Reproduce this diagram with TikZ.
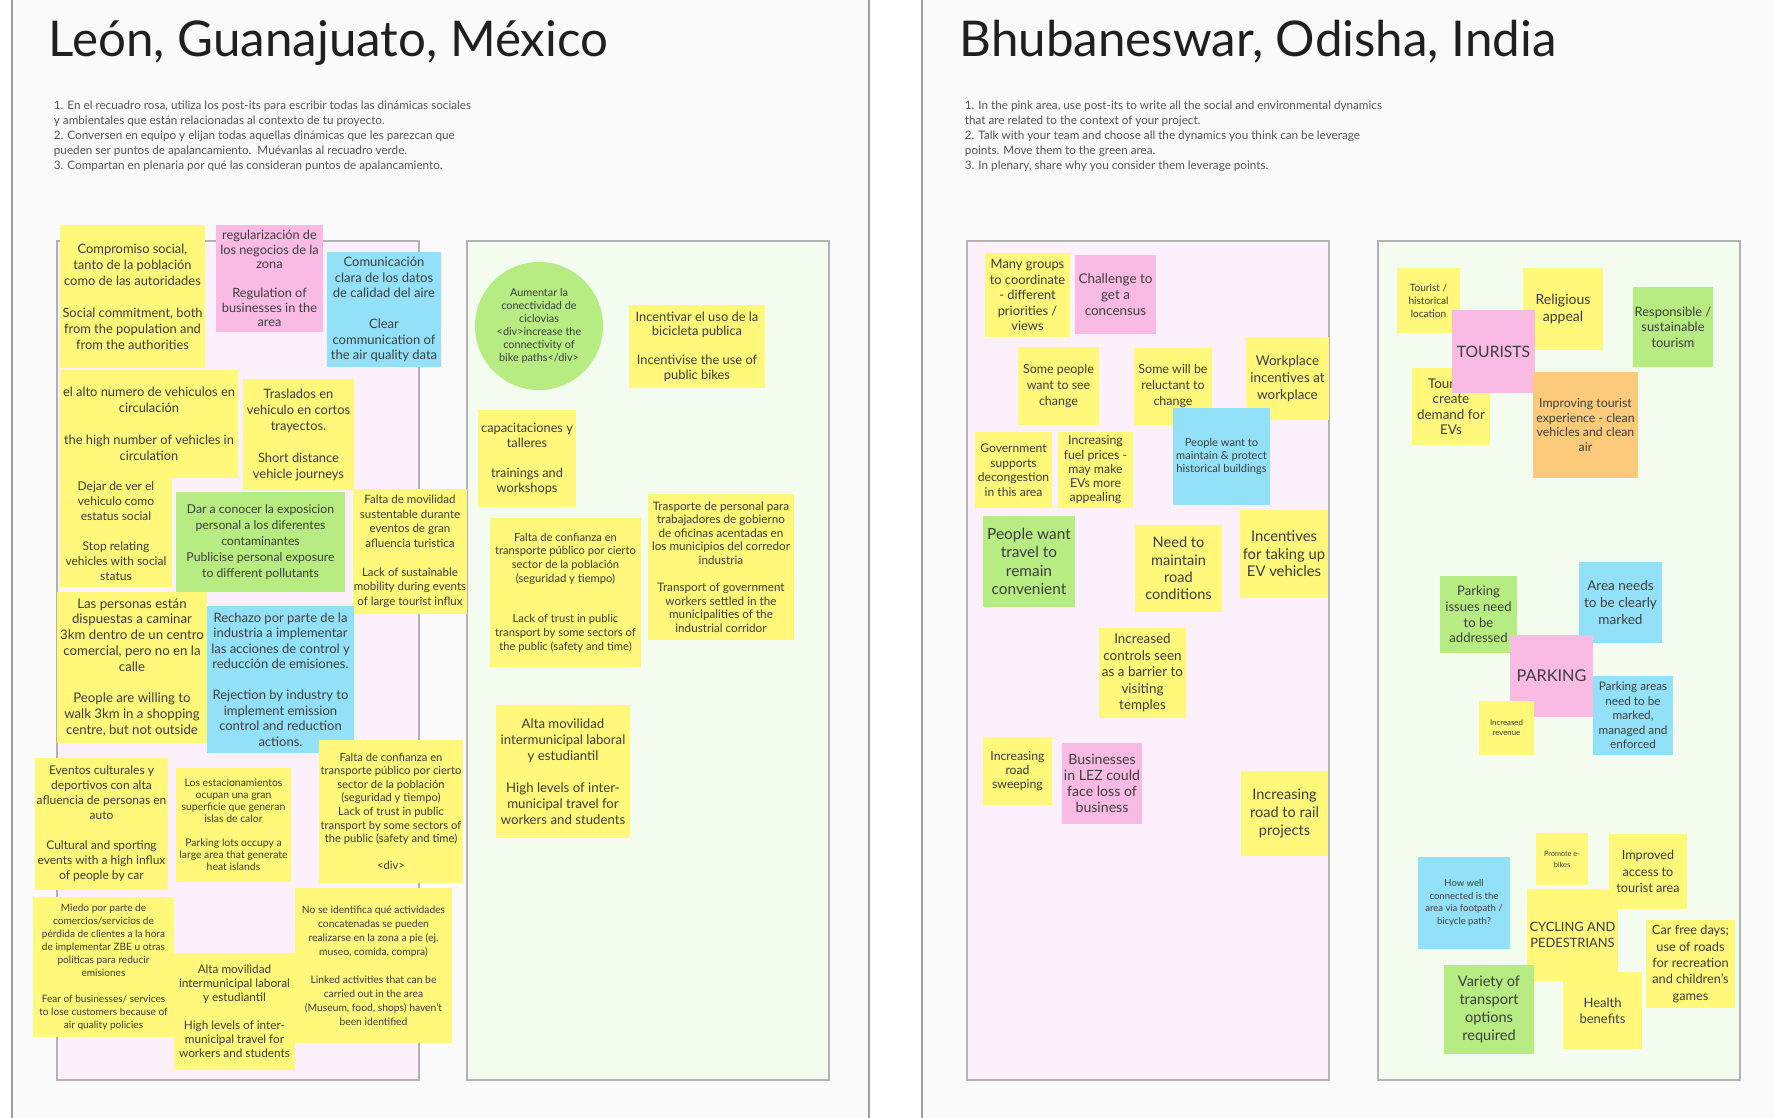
\documentclass[tikz,border=0pt]{standalone}
\usepackage{fontspec}
\setmainfont{Lato}[Scale=1.12]
\usepackage{xcolor}
\usepackage{tikz}
\usetikzlibrary{positioning}
\definecolor{boardgray}{HTML}{FAFAFA}
\definecolor{framegray}{HTML}{9E9E9E}
\definecolor{areaborder}{HTML}{B2B2B2}
\definecolor{pinkarea}{HTML}{FCF0FC}
\definecolor{greenarea}{HTML}{F4FBEF}
\definecolor{stickyyellow}{HTML}{FFF87A}
\definecolor{stickypink}{HTML}{F9BAE4}
\definecolor{stickyblue}{HTML}{93E1F8}
\definecolor{stickygreen}{HTML}{B6EC82}
\definecolor{stickyorange}{HTML}{FBCB7B}
\definecolor{notetext}{HTML}{3E3E3E}
\definecolor{hinttext}{HTML}{555555}
\newcommand{\nf}[2]{\fontsize{#1}{#2}\selectfont}

\begin{document}
\begin{tikzpicture}[x=1pt, y=-1pt,
    area/.style={draw=areaborder, line width=1.2pt},
    title/.style={anchor=base west, font=\nf{44}{50}, text=black!88},
    hint/.style={anchor=north west, align=left, font=\nf{10.45}{15}, text=hinttext},
    note/.style={inner sep=1pt, align=center, text=notetext},
    sz/.style 2 args={minimum width=#1, minimum height=#2},
    yel/.style={note, fill=stickyyellow},
    pnk/.style={note, fill=stickypink},
    blu/.style={note, fill=stickyblue},
    grn/.style={note, fill=stickygreen},
    org/.style={note, fill=stickyorange}
]
    \useasboundingbox (0,0) rectangle (1774,1118);
    \fill[white] (0,0) rectangle (1774,1118);

    % Frames
    \fill[boardgray] (12,0) rectangle (869,1118);
    \fill[boardgray] (922,0) rectangle (1774,1118);
    \draw[framegray, line width=2] (12,0) -- (12,1118);
    \draw[framegray, line width=2] (869,0) -- (869,1118);
    \draw[framegray, line width=2] (922,0) -- (922,1118);

    % Titles and instructions
    \node[title] (t_leon) at (45,57) {León, Guanajuato, México};
    \node[title] (t_bhub) at (956,57) {Bhubaneswar, Odisha, India};
    \node[hint] (h_leon) at (50,97) {1. En el recuadro rosa, utiliza los post-its para escribir todas las dinámicas sociales\\y ambientales que están relacionadas al contexto de tu proyecto.\\2. Conversen en equipo y elijan todas aquellas dinámicas que les parezcan que\\pueden ser puntos de apalancamiento.\ \ Muévanlas al recuadro verde.\\3. Compartan en plenaria por qué las consideran puntos de apalancamiento.};
    \node[hint] (h_bhub) at (961,97) {1. In the pink area, use post-its to write all the social and environmental dynamics\\that are related to the context of your project.\\2. Talk with your team and choose all the dynamics you think can be leverage\\points. Move them to the green area.\\3. In plenary, share why you consider them leverage points.};

    % Areas
    \draw[area, fill=pinkarea] (57,241) rectangle (419,1080);
    \draw[area, fill=greenarea] (467,241) rectangle (829,1080);
    \draw[area, fill=pinkarea] (967,241) rectangle (1329,1080);
    \draw[area, fill=greenarea] (1378,241) rectangle (1740,1080);

    % Leon: pink area
    \node[yel, sz={145}{143}, font=\nf{11.5}{16}] (l_compromiso) at (132.5,296.5) {Compromiso social,\\tanto de la población\\como de las autoridades\\[\baselineskip]Social commitment, both\\from the population and\\from the authorities};
    \node[pnk, sz={107}{107}, font=\nf{11.4}{14.5}] (l_regulacion) at (269.5,278.5) {regularización de\\los negocios de la\\zona\\[\baselineskip]Regulation of\\businesses in the\\area};
    \node[blu, sz={114}{115}, font=\nf{11.6}{15.5}] (l_comunicacion) at (384,309.5) {Comunicación\\clara de los datos\\de calidad del aire\\[\baselineskip]Clear\\communication of\\the air quality data};
    \node[yel, sz={178}{108}, font=\nf{11.5}{16}] (l_vehiculos) at (149,424) {el alto numero de vehiculos en\\circulación\\[\baselineskip]the high number of vehicles in\\circulation};
    \node[yel, sz={111}{111}, font=\nf{11.5}{16}] (l_traslados) at (298.5,434.5) {Traslados en\\vehiculo en cortos\\trayectos.\\[\baselineskip]Short distance\\vehicle journeys};
    \node[yel, sz={112}{111}, font=\nf{10.7}{15}] (l_estatus) at (116,531.5) {Dejar de ver el\\vehiculo como\\estatus social\\[\baselineskip]Stop relating\\vehicles with social\\status};
    \node[grn, sz={169}{100}, font=\nf{10.9}{16}] (l_exposicion) at (260.5,542) {Dar a conocer la exposicion\\personal a los diferentes\\contaminantes\\Publicise personal exposure\\to different pollutants};
    \node[yel, sz={114}{125}, font=\nf{10.3}{14.5}] (l_turistica) at (410,551.5) {Falta de movilidad\\sustentable durante\\eventos de gran\\afluencia turistica\\[\baselineskip]Lack of sustainable\\mobility during events\\of large tourist influx};
    \node[yel, sz={150}{151}, font=\nf{11.8}{15.8}] (l_caminar) at (132,667.5) {Las personas están\\dispuestas a caminar\\3km dentro de un centro\\comercial, pero no en la\\calle\\[\baselineskip]People are willing to\\walk 3km in a shopping\\centre, but not outside};
    \node[blu, sz={147}{147}, font=\nf{11.6}{15.5}] (l_rechazo) at (280.5,679.5) {Rechazo por parte de la\\industria a implementar\\las acciones de control y\\reducción de emisiones.\\[\baselineskip]Rejection by industry to\\implement emission\\control and reduction\\actions.};
    \node[yel, sz={133}{132}, font=\nf{10.7}{15}] (l_culturales) at (101.5,824) {Eventos culturales y\\deportivos con alta\\afluencia de personas en\\auto\\[\baselineskip]Cultural and sporting\\events with a high influx\\of people by car};
    \node[yel, sz={115}{114}, font=\nf{9.3}{12}] (l_estacionamientos) at (233.5,825) {Los estacionamientos\\ocupan una gran\\superficie que generan\\islas de calor\\[\baselineskip]Parking lots occupy a\\large area that generate\\heat islands};
    \node[yel, sz={144}{143}, font=\nf{10}{13.6}] (l_confianza) at (391,811.5) {Falta de confianza en\\transporte público por cierto\\sector de la población\\(seguridad y tiempo)\\Lack of trust in public\\transport by some sectors of\\the public (safety and time)\\[\baselineskip]<div>};
    \node[yel, sz={141}{140}, font=\nf{9}{13}] (l_miedo) at (103.5,967) {Miedo por parte de\\comercios/servicios de\\pérdida de clientes a la hora\\de implementar ZBE u otras\\politicas para reducir\\emisiones\\[\baselineskip]Fear of businesses/ services\\to lose customers because of\\air quality policies};
    \node[yel, sz={157}{155}, font=\nf{9.2}{14}] (l_actividades) at (373.5,965.5) {No se identifica qué actividades\\concatenadas se pueden\\realizarse en la zona a pie (ej.\\museo, comida, compra)\\[\baselineskip]Linked activities that can be\\carried out in the area\\(Museum, food, shops) haven't\\been identified};
    \node[yel, sz={121}{117}, font=\nf{10.5}{14}] (l_movilidad) at (234.5,1011.5) {Alta movilidad\\intermunicipal laboral\\y estudiantil\\[\baselineskip]High levels of inter-\\municipal travel for\\workers and students};

    % Leon: green area
    \node[grn, circle, minimum size=128, font=\nf{9.7}{13}] (g_ciclovias) at (539,326) {Aumentar la\\conectividad de\\ciclovias\\<div>increase the\\connectivity of\\bike paths</div>};
    \node[yel, sz={136}{83}, font=\nf{11.5}{14.5}] (g_bicicleta) at (697,346.5) {Incentivar el uso de la\\bicicleta publica\\[\baselineskip]Incentivise the use of\\public bikes};
    \node[yel, sz={98}{97}, font=\nf{11.4}{15}] (g_talleres) at (527,458.5) {capacitaciones y\\talleres\\[\baselineskip]trainings and\\workshops};
    \node[yel, sz={151}{149}, font=\nf{10}{13.6}] (g_confianza) at (565.5,592.5) {Falta de confianza en\\transporte público por cierto\\sector de la población\\(seguridad y tiempo)\\[2\baselineskip]Lack of trust in public\\transport by some sectors of\\the public (safety and time)};
    \node[yel, sz={146}{146}, font=\nf{10.45}{13.6}] (g_trasporte) at (721,567) {Trasporte de personal para\\trabajadores de gobierno\\de oficinas acentadas en\\los municipios del corredor\\industria\\[\baselineskip]Transport of government\\workers settled in the\\municipalities of the\\industrial corridor};
    \node[yel, sz={134}{133}, font=\nf{11.8}{16}] (g_movilidad) at (563,771.5) {Alta movilidad\\intermunicipal laboral\\y estudiantil\\[\baselineskip]High levels of inter-\\municipal travel for\\workers and students};

    % Bhubaneswar: pink area
    \node[yel, sz={85}{84}, font=\nf{11.5}{15.5}] (b_groups) at (1027.5,295) {Many groups\\to coordinate\\- different\\priorities /\\views};
    \node[pnk, sz={81}{79}, font=\nf{12}{16}] (b_challenge) at (1115.5,294.5) {Challenge to\\get a\\concensus};
    \node[yel, sz={81}{78}, font=\nf{11.1}{16}] (b_somepeople) at (1058.5,386) {Some people\\want to see\\change};
    \node[yel, sz={78}{77}, font=\nf{11.1}{16}] (b_reluctant) at (1173,386.5) {Some will be\\reluctant to\\change};
    \node[yel, sz={83}{83}, font=\nf{12}{17}] (b_workplace) at (1287.5,378.5) {Workplace\\incentives at\\workplace};
    \node[yel, sz={77}{76}, font=\nf{10.8}{14.5}] (b_government) at (1013.5,470) {Government\\supports\\decongestion\\in this area};
    \node[yel, sz={75}{76}, font=\nf{11}{14.3}] (b_fuel) at (1095.5,470) {Increasing\\fuel prices -\\may make\\EVs more\\appealing};
    \node[blu, sz={97}{97}, font=\nf{9.9}{13}] (b_historical) at (1221.5,456.5) {People want to\\maintain \& protect\\historical buildings};
    \node[grn, sz={92}{91}, font=\nf{13.75}{18.5}] (b_convenient) at (1029,561.5) {People want\\travel to\\remain\\convenient};
    \node[yel, sz={87}{87}, font=\nf{13}{17.3}] (b_road) at (1178.5,568.5) {Need to\\maintain\\road\\conditions};
    \node[yel, sz={88}{88}, font=\nf{13.2}{17.5}] (b_ev) at (1284,554) {Incentives\\for taking up\\EV vehicles};
    \node[yel, sz={87}{90}, font=\nf{12}{16.5}] (b_temples) at (1142.5,673) {Increased\\controls seen\\as a barrier to\\visiting\\temples};
    \node[yel, sz={69}{68}, font=\nf{10.9}{14}] (b_sweeping) at (1017.5,771) {Increasing\\road\\sweeping};
    \node[pnk, sz={80}{81}, font=\nf{12.6}{16}] (b_lez) at (1102,783.5) {Businesses\\in LEZ could\\face loss of\\business};
    \node[yel, sz={87}{85}, font=\nf{13}{18}] (b_rail) at (1284.5,813.5) {Increasing\\road to rail\\projects};

    % Bhubaneswar: green area - tourists
    \node[yel, sz={63}{65}, font=\nf{9}{13}] (t_location) at (1428.5,300.5) {Tourist /\\historical\\location};
    \node[yel, sz={80}{82}, font=\nf{12.5}{17}] (t_religious) at (1563,309) {Religious\\appeal};
    \node[yel, sz={78}{77}, font=\nf{12}{15.5}] (t_demand) at (1451,406.5) {Tourists\\create\\demand for\\EVs};
    \node[pnk, sz={83}{83}, font=\nf{14}{17}] (t_tourists) at (1493.5,351.5) {TOURISTS};
    \node[grn, sz={80}{80}, font=\nf{11.5}{15.5}] (t_responsible) at (1673,327) {Responsible /\\sustainable\\tourism};
    \node[org, sz={105}{106}, font=\nf{11}{14.5}] (t_experience) at (1585.5,425) {Improving tourist\\experience - clean\\vehicles and clean\\air};

    % Bhubaneswar: green area - parking
    \node[grn, sz={77}{77}, font=\nf{11.7}{15.8}] (p_issues) at (1478.5,614.5) {Parking\\issues need\\to be\\addressed};
    \node[blu, sz={83}{81}, font=\nf{12.1}{17}] (p_marked) at (1620.5,602.5) {Area needs\\to be clearly\\marked};
    \node[pnk, sz={83}{82}, font=\nf{14.5}{18}] (p_parking) at (1551.5,676) {PARKING};
    \node[yel, sz={55}{54}, font=\nf{7}{10}] (p_revenue) at (1506.5,728) {Increased\\revenue};
    \node[blu, sz={80}{79}, font=\nf{10.5}{14.5}] (p_enforced) at (1633,715.5) {Parking areas\\need to be\\marked,\\managed and\\enforced};

    % Bhubaneswar: green area - cycling
    \node[blu, sz={92}{92}, font=\nf{8.5}{12.5}] (c_connected) at (1464,903) {How well\\connected is the\\area via footpath /\\bicycle path?};
    \node[yel, sz={52}{52}, font=\nf{6.5}{11}] (c_ebikes) at (1562,859) {Promote e-\\bikes};
    \node[yel, sz={78}{75}, font=\nf{11.3}{16.5}] (c_access) at (1648,871.5) {Improved\\access to\\tourist area};
    \node[yel, sz={91}{92}, font=\nf{11.5}{15.5}] (c_cycling) at (1572.5,935) {CYCLING AND\\PEDESTRIANS};
    \node[yel, sz={89}{88}, font=\nf{11.4}{16.3}] (c_carfree) at (1690.5,964) {Car free days;\\use of roads\\for recreation\\and children's\\games};
    \node[grn, sz={90}{89}, font=\nf{13}{18}] (c_variety) at (1489,1009.5) {Variety of\\transport\\options\\required};
    \node[yel, sz={79}{77}, font=\nf{11.6}{16}] (c_health) at (1602.5,1010.5) {Health\\benefits};

\end{tikzpicture}
\end{document}
